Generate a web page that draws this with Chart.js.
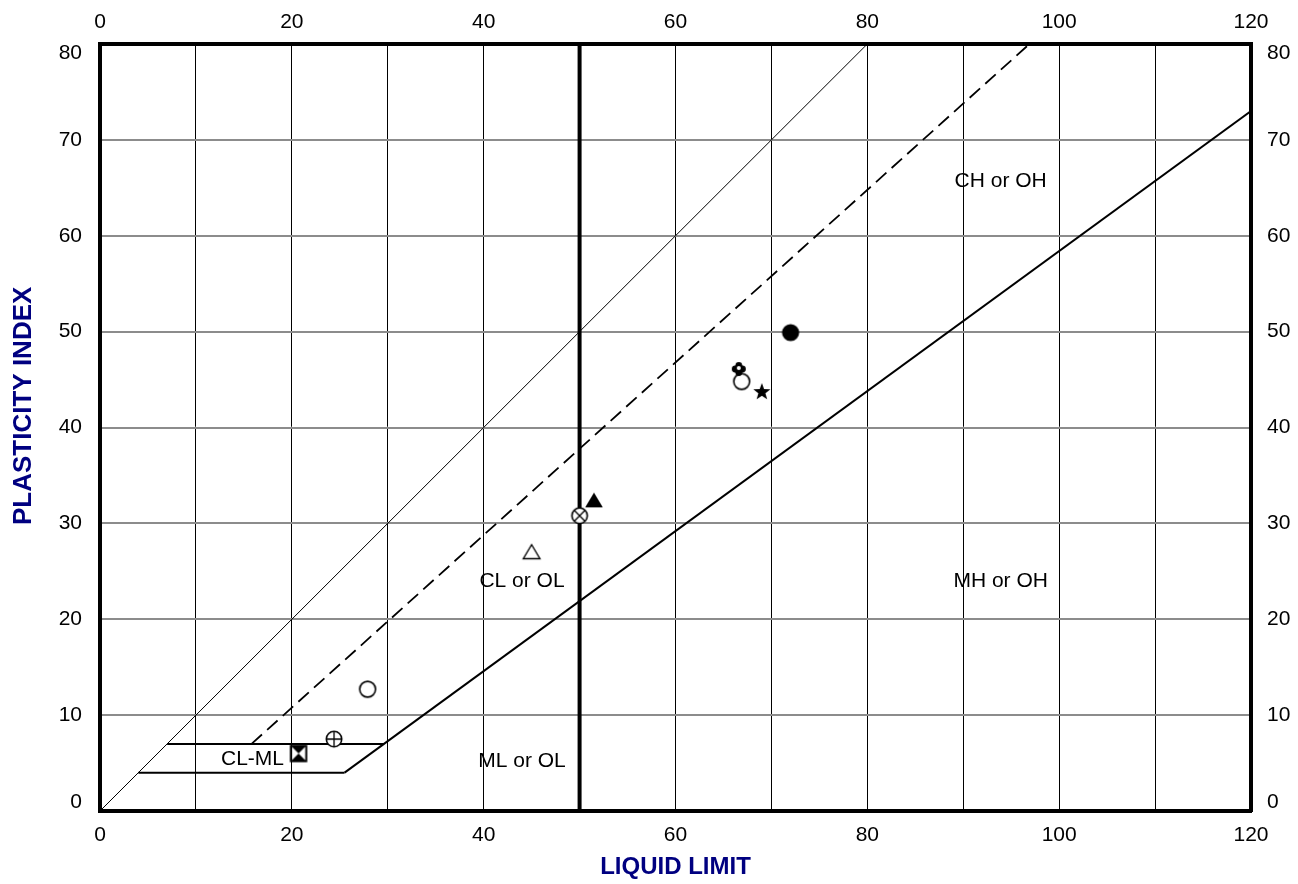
<!DOCTYPE html>
<html>
<head>
<meta charset="utf-8">
<script src="https://cdn.jsdelivr.net/npm/chart.js@4"></script>
<style>
html, body { margin: 0; padding: 0; background: #fff; }
</style>
</head>
<body>
<canvas id="chart" width="1298" height="884"></canvas>
<script>
// tick labels
const xTickLabels = [0, 20, 40, 60, 80, 100, 120];
const yTickLabels = [0, 10, 20, 30, 40, 50, 60, 70, 80];

// test results (liquid limit / plasticity index) and their symbols
const sampleLL = [27.9, 24.4, 20.7, 45.0, 50.0, 51.5, 72.0, 66.9, 66.6, 69.0];
const samplePI = [12.7, 7.5, 6.0, 27.0, 30.8, 32.4, 49.9, 44.8, 46.1, 43.7];
const sampleSymbol = ['circle', 'circlePlus', 'hourglass', 'triangle', 'circleCross', 'triangleFilled', 'dot', 'circle', 'flower', 'star'];

// chart lines: [LL, PI] end points
const lineOneToOne = [[0, 0], [80, 80]];
const lineU = [[15.8, 7], [96.9, 80]];
const lineA = [[25.5, 4], [120, 73]];
const lineCLML7 = [[7, 7], [29.6, 7]];
const lineCLML4 = [[4, 4], [25.5, 4]];
const lineLL50 = [[50, 0], [50, 80]];

// zone labels
const zoneText = ['CH or OH', 'MH or OH', 'CL or OL', 'ML or OL', 'CL-ML'];
const zoneLL = [93.9, 93.9, 44.0, 44.0, 15.9];
const zonePI = [65.7, 24.0, 24.0, 5.2, 5.4];

const FONT = 'Liberation Sans, Arial, sans-serif';

function icon(size, draw) {
    const c = document.createElement('canvas');
    c.width = size; c.height = size;
    const g = c.getContext('2d');
    g.translate(size / 2, size / 2);
    g.lineWidth = 1.6;
    g.strokeStyle = '#000';
    g.fillStyle = '#000';
    draw(g);
    return c;
}

function ring(g, r) {
    g.beginPath();
    g.arc(0, 0, r, 0, Math.PI * 2);
    g.fillStyle = '#fff';
    g.fill();
    g.stroke();
    g.fillStyle = '#000';
}

const symbols = {
    circle: icon(22, g => ring(g, 7.9)),
    circlePlus: icon(22, g => {
        ring(g, 7.7);
        g.lineWidth = 1.3;
        g.beginPath();
        g.moveTo(-7.7, 0); g.lineTo(7.7, 0);
        g.moveTo(0, -7.7); g.lineTo(0, 7.7);
        g.stroke();
    }),
    circleCross: icon(22, g => {
        ring(g, 7.7);
        const d = 7.7 * 0.707;
        g.lineWidth = 1.3;
        g.beginPath();
        g.moveTo(-d, -d); g.lineTo(d, d);
        g.moveTo(-d, d); g.lineTo(d, -d);
        g.stroke();
    }),
    hourglass: icon(22, g => {
        const r = 7.7;
        g.beginPath();
        g.moveTo(-r, -r); g.lineTo(r, -r); g.lineTo(0, 0); g.closePath();
        g.moveTo(-r, r); g.lineTo(r, r); g.lineTo(0, 0); g.closePath();
        g.fill();
        g.lineWidth = 2;
        g.strokeRect(-r, -r, 2 * r, 2 * r);
    }),
    triangle: icon(22, g => {
        g.lineWidth = 1.4;
        g.beginPath();
        g.moveTo(0, -7.5); g.lineTo(8.3, 6.5); g.lineTo(-8.3, 6.5); g.closePath();
        g.fillStyle = '#fff';
        g.fill();
        g.stroke();
    }),
    triangleFilled: icon(22, g => {
        g.beginPath();
        g.moveTo(0, -7.8); g.lineTo(8.8, 7); g.lineTo(-8.8, 7); g.closePath();
        g.fill();
    }),
    dot: icon(22, g => {
        g.beginPath();
        g.arc(0, 0, 8.6, 0, Math.PI * 2);
        g.fill();
    }),
    flower: icon(20, g => {
        const o = 3.6, r = 3.4;
        [[0, -o], [0, o], [-o, 0], [o, 0]].forEach(([a, b]) => {
            g.beginPath();
            g.arc(a, b, r, 0, Math.PI * 2);
            g.fill();
        });
        g.fillRect(-o, -o, 2 * o, 2 * o);
        g.beginPath();
        g.arc(0, -1, 2, 0, Math.PI * 2);
        g.fillStyle = '#fff';
        g.fill();
    }),
    star: icon(22, g => {
        g.beginPath();
        for (let i = 0; i < 10; i++) {
            const r = i % 2 === 0 ? 9 : 3.7;
            const a = -Math.PI / 2 + i * Math.PI / 5;
            const px = r * Math.cos(a), py = r * Math.sin(a);
            if (i === 0) g.moveTo(px, py); else g.lineTo(px, py);
        }
        g.closePath();
        g.fill();
    })
};

const toPts = arr => arr.map(([x, y]) => ({ x, y }));

function lineSet(pts, width, dash) {
    return {
        type: 'scatter',
        data: toPts(pts),
        showLine: true,
        borderColor: '#000',
        borderWidth: width,
        borderDash: dash || [],
        pointRadius: 0,
        fill: false,
        tension: 0
    };
}

const zoneLabels = {
    id: 'zoneLabels',
    afterDatasetsDraw(chart) {
        const { ctx, scales: { x, y } } = chart;
        ctx.save();
        ctx.fillStyle = '#000';
        ctx.font = '21px ' + FONT;
        ctx.textAlign = 'center';
        ctx.textBaseline = 'middle';
        zoneText.forEach((t, i) => {
            ctx.fillText(t, x.getPixelForValue(zoneLL[i]), y.getPixelForValue(zonePI[i]));
        });
        ctx.restore();
    }
};

const tickFont = { family: FONT, size: 21 };
const yTickFont = { family: FONT, size: 21, lineHeight: '18px' };
const border = { color: '#000', width: 4 };

// first and last y labels sit inside the frame
function yLabel(v) {
    if (!yTickLabels.includes(v)) return '';
    if (v === 80) return ['', '80'];
    if (v === 0) return ['0', ''];
    return String(v);
}

new Chart(document.getElementById('chart'), {
    type: 'scatter',
    data: {
        datasets: [
            {
                data: sampleLL.map((v, i) => ({ x: v, y: samplePI[i] })),
                pointStyle: sampleSymbol.map(s => symbols[s]),
                pointRadius: 9,
                showLine: false
            },
            lineSet(lineLL50, 4),
            lineSet(lineOneToOne, 1),
            lineSet(lineU, 1.8, [14, 7]),
            lineSet(lineA, 2),
            lineSet(lineCLML7, 2),
            lineSet(lineCLML4, 2)
        ]
    },
    options: {
        responsive: false,
        devicePixelRatio: 1,
        animation: false,
        events: [],
        layout: { padding: 0 },
        plugins: {
            legend: { display: false },
            tooltip: { enabled: false }
        },
        scales: {
            x: {
                type: 'linear', axis: 'x', position: 'bottom', min: 0, max: 120,
                afterFit: s => { s.height = 73; },
                ticks: {
                    stepSize: 10, padding: 12, color: '#000', font: tickFont, maxRotation: 0, autoSkip: false,
                    callback: v => xTickLabels.includes(v) ? String(v) : ''
                },
                grid: { color: '#000', lineWidth: 1, drawTicks: false },
                border: border,
                title: {
                    display: true, text: 'LIQUID LIMIT', color: '#000080',
                    font: { family: FONT, size: 24, weight: 'bold' }, padding: { top: 0, bottom: 2 }
                }
            },
            x2: {
                type: 'linear', axis: 'x', position: 'top', min: 0, max: 120,
                afterFit: s => { s.height = 44; },
                ticks: { stepSize: 20, padding: 9, color: '#000', font: tickFont, maxRotation: 0, autoSkip: false },
                grid: { display: false, drawTicks: false },
                border: border
            },
            y: {
                type: 'linear', axis: 'y', position: 'left', min: 0, max: 80,
                afterFit: s => { s.width = 100; },
                ticks: { stepSize: 10, padding: 18, color: '#000', font: yTickFont, autoSkip: false, callback: yLabel },
                grid: { color: '#8c8c8c', lineWidth: 2, drawTicks: false },
                border: border,
                title: {
                    display: true, text: '\u00a0\u00a0\u00a0\u00a0\u00a0\u00a0PLASTICITY INDEX', color: '#000080',
                    font: { family: FONT, size: 26, weight: 'bold' }, padding: { top: 8, bottom: 0 }
                }
            },
            y2: {
                type: 'linear', axis: 'y', position: 'right', min: 0, max: 80,
                afterFit: s => { s.width = 47; },
                ticks: { stepSize: 10, padding: 16, color: '#000', font: yTickFont, autoSkip: false, callback: yLabel },
                grid: { display: false, drawTicks: false },
                border: border
            }
        }
    },
    plugins: [zoneLabels]
});
</script>
</body>
</html>
